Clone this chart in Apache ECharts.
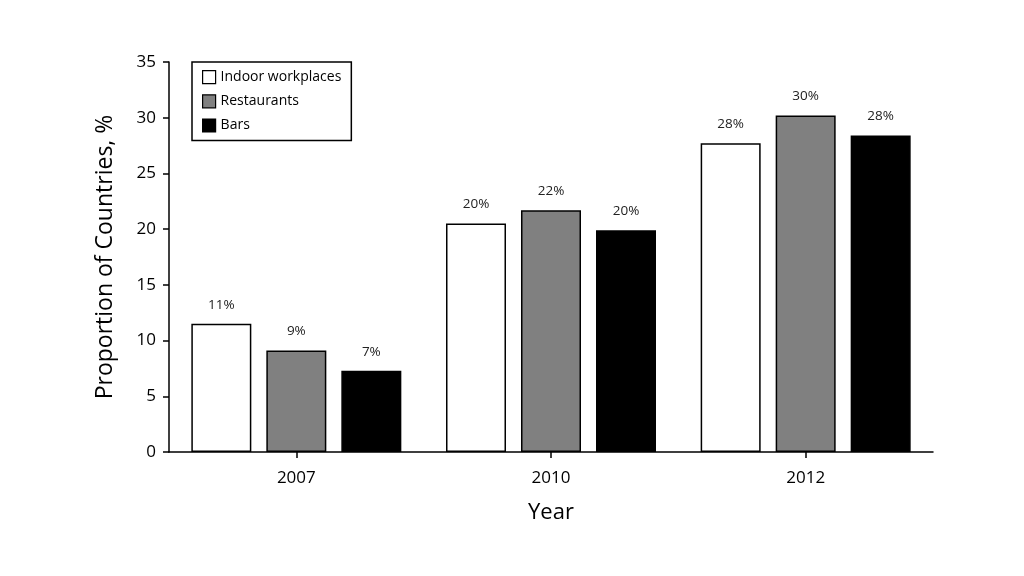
<!DOCTYPE html>
<html><head><meta charset="utf-8">
<script src="https://cdn.jsdelivr.net/npm/echarts@6/dist/echarts.min.js"></script>
<style>html,body{margin:0;padding:0;background:#fff}#c{width:1024px;height:576px}</style>
</head><body><div id="c"></div>
<script>
const categories = ['2007', '2010', '2012'];
const seriesNames = ['Indoor workplaces', 'Restaurants', 'Bars'];
const indoorValues = [11.5, 20.5, 27.7];
const restaurantValues = [9.1, 21.7, 30.2];
const barsValues = [7.3, 19.9, 28.4];
const indoorLabels = ['11%', '20%', '28%'];
const restaurantLabels = ['9%', '22%', '30%'];
const barsLabels = ['7%', '20%', '28%'];
const yTicks = [0, 5, 10, 15, 20, 25, 30, 35];

const font = '"Open Sans", "Noto Sans", sans-serif';
const colors = ['#ffffff', '#808080', '#000000'];
const allValues = [indoorValues, restaurantValues, barsValues];
const allLabels = [indoorLabels, restaurantLabels, barsLabels];

const chart = echarts.init(document.getElementById('c'));
chart.setOption({
  animation: false,
  backgroundColor: '#fff',
  grid: { left: 169, right: 91, top: 62, bottom: 124 },
  legend: {
    orient: 'vertical', left: 192, top: 62,
    data: seriesNames,
    icon: 'rect', itemWidth: 13, itemHeight: 13, itemGap: 10,
    borderColor: '#000', borderWidth: 1.5, padding: [8, 10, 8, 10],
    textStyle: { fontFamily: font, fontSize: 14, color: '#000' },
    itemStyle: { borderColor: '#000', borderWidth: 1.2 }
  },
  xAxis: {
    type: 'category', data: categories,
    name: 'Year', nameLocation: 'middle', nameGap: 50,
    nameTextStyle: { fontFamily: font, fontSize: 22, color: '#000' },
    axisLine: { lineStyle: { color: '#000', width: 1.5 } },
    axisTick: { show: true, alignWithLabel: true, length: 6, lineStyle: { color: '#000', width: 1.5 } },
    axisLabel: { fontFamily: font, fontSize: 17, color: '#000', margin: 18 }
  },
  yAxis: {
    type: 'value', min: yTicks[0], max: yTicks[yTicks.length-1], interval: 5,
    name: 'Proportion of Countries, %', nameLocation: 'middle', nameGap: 52,
    nameTextStyle: { fontFamily: font, fontSize: 23, color: '#000' },
    axisLine: { show: true, lineStyle: { color: '#000', width: 1.5 } },
    axisTick: { show: true, length: 6, lineStyle: { color: '#000', width: 1.5 } },
    axisLabel: { fontFamily: font, fontSize: 17, color: '#000', margin: 13 },
    splitLine: { show: false }
  },
  series: seriesNames.map((n, si) => ({
    name: n, type: 'bar', barWidth: 60, barGap: '25%',
    data: allValues[si],
    itemStyle: { color: colors[si], borderColor: '#000', borderWidth: 1.5 },
    label: {
      show: true, position: 'top', distance: 12,
      fontFamily: font, fontSize: 13.5, color: '#222',
      formatter: p => allLabels[si][p.dataIndex]
    }
  }))
});
</script></body></html>
